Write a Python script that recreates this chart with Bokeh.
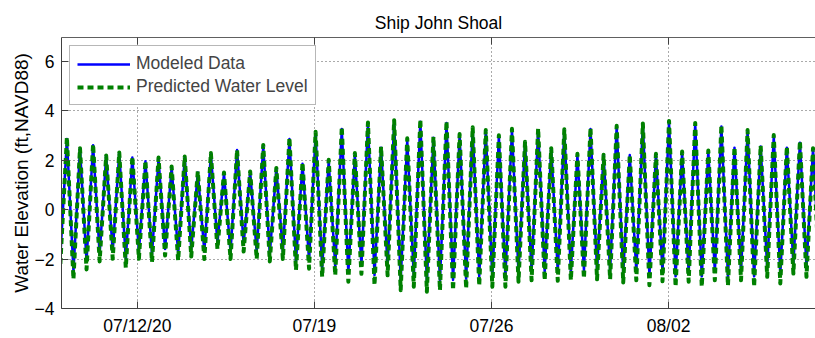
import pandas as pd
from bokeh.plotting import figure
from bokeh.models import FixedTicker, DatetimeAxis, Range1d
from bokeh.embed import file_html
from bokeh.resources import INLINE

title_text = "Ship John Shoal"
y_label = "Water Elevation (ft,NAVD88)"
series_names = ["Modeled Data", "Predicted Water Level"]
tick_dates = ["2020-07-12", "2020-07-19", "2020-07-26", "2020-08-02"]
tick_labels = ["07/12/20", "07/19", "07/26", "08/02"]
y_ticks = [-4, -2, 0, 2, 4, 6]
x_start = "2020-07-09 00:00"
x_end = "2020-08-07 19:25"

# times of the alternating low / high waters
first_time = "2020-07-08 22:55"
half_period_s = 22356  # ~6 h 12.6 min between a low and the next high

# Predicted Water Level: high waters and low waters (ft)
pred_high = [2.92, 2.48, 2.64, 2.18, 2.30, 2.14, 1.97, 2.10, 1.74, 2.14,
             1.54, 2.28, 1.50, 2.41, 1.54, 2.61, 1.68, 2.90, 1.90, 3.14,
             2.01, 3.34, 2.28, 3.52, 2.54, 3.61, 2.88, 3.64, 2.94, 3.57,
             3.05, 3.32, 3.21, 3.00, 3.26, 2.74, 3.28, 2.48, 3.24, 2.25,
             3.30, 2.21, 3.38, 2.21, 3.48, 2.25, 3.58, 2.34, 3.50, 2.38,
             3.41, 2.52, 3.21, 2.58, 3.01, 2.54, 2.77, 2.48]
pred_low = [-2.20, -2.82, -2.42, -2.10, -1.99, -2.36, -1.99, -2.12, -1.86, -2.06,
            -1.90, -2.00, -1.60, -2.00, -1.70, -2.00, -2.10, -2.00, -2.45, -2.39,
            -2.72, -2.66, -2.92, -2.60, -3.06, -2.66, -3.26, -3.12, -3.32, -3.26,
            -3.26, -3.19, -3.08, -3.12, -3.12, -2.92, -2.86, -2.86, -2.88, -2.86,
            -2.79, -2.82, -2.82, -2.95, -2.86, -3.06, -2.90, -3.12, -2.92, -3.12,
            -2.86, -3.08, -2.86, -3.12, -2.72, -2.99, -2.59, -2.72, -2.90]

# Modeled Data: high waters and low waters (ft)
model_high = [2.85, 2.45, 2.60, 2.15, 2.30, 2.10, 1.95, 2.05, 1.70, 2.10,
              1.50, 2.25, 1.45, 2.40, 1.50, 2.55, 1.65, 2.85, 1.85, 3.05,
              1.95, 3.25, 2.20, 3.45, 2.50, 3.50, 2.80, 3.55, 2.90, 3.50,
              3.00, 3.25, 3.15, 2.95, 3.20, 2.70, 3.20, 2.45, 3.20, 2.20,
              3.25, 2.20, 3.35, 2.20, 3.45, 2.20, 3.50, 2.30, 3.45, 2.35,
              3.35, 2.50, 3.15, 2.55, 2.95, 2.50, 2.70, 2.45]
model_low = [-1.90, -2.50, -2.10, -1.80, -1.70, -2.00, -1.70, -1.80, -1.60, -1.75,
             -1.60, -1.70, -1.35, -1.70, -1.40, -1.70, -1.80, -1.70, -2.10, -2.05,
             -2.35, -2.30, -2.55, -2.25, -2.65, -2.30, -2.85, -2.70, -2.90, -2.85,
             -2.85, -2.80, -2.70, -2.75, -2.70, -2.55, -2.50, -2.50, -2.50, -2.50,
             -2.45, -2.45, -2.45, -2.55, -2.50, -2.65, -2.50, -2.70, -2.55, -2.70,
             -2.50, -2.70, -2.50, -2.70, -2.35, -2.60, -2.20, -2.30, -2.50]


def interleave(lows, highs):
    out = []
    for lo, hi in zip(lows, highs):
        out += [lo, hi]
    out.append(lows[-1])
    return out


pred_vals = interleave(pred_low, pred_high)
model_vals = interleave(model_low, model_high)
times = pd.date_range(first_time, periods=len(pred_vals), freq=f"{half_period_s}s")

FONT = "Liberation Sans"
tick_ms = [pd.Timestamp(d).value / 1e6 for d in tick_dates]

p = figure(width=815, height=338, x_axis_type="datetime",
           x_range=Range1d(pd.Timestamp(x_start), pd.Timestamp(x_end)),
           y_range=Range1d(-4, 6.95),
           output_backend="svg", toolbar_location=None, title=title_text,
           min_border_left=61, min_border_right=0, min_border_top=37,
           min_border_bottom=28)
p.outline_line_color = None
p.background_fill_color = "white"
p.border_fill_color = "white"

p.title.text_font = FONT
p.title.text_font_size = "17.5px"
p.title.text_font_style = "normal"
p.title.align = "center"
p.title.text_color = "black"
p.title.offset = 3

# x axis
xa = p.xaxis[0]
xa.ticker = FixedTicker(ticks=tick_ms)
xa.major_label_overrides = {t: lab for t, lab in zip(tick_ms, tick_labels)}
# y axis
ya = p.yaxis[0]
ya.ticker = FixedTicker(ticks=y_ticks)
ya.axis_label = y_label

for ax in (xa, ya):
    ax.major_tick_in = 7
    ax.major_tick_out = 0
    ax.minor_tick_line_color = None
    ax.axis_line_color = "#404040"
    ax.major_tick_line_color = "#404040"
    ax.major_label_text_font = FONT
    ax.major_label_text_font_size = "17.5px"
    ax.major_label_text_color = "black"
    ax.axis_label_text_font = FONT
    ax.axis_label_text_font_size = "19px"
    ax.axis_label_text_font_style = "normal"
    ax.axis_label_text_color = "black"
xa.major_label_standoff = 7
ya.major_label_standoff = 7
ya.axis_label_standoff = 0

top = DatetimeAxis(ticker=FixedTicker(ticks=tick_ms), major_tick_in=7,
                   major_tick_out=0, minor_tick_line_color=None,
                   axis_line_color="#606060", major_tick_line_color="#404040",
                   major_label_text_font_size="2px", major_label_text_color=None,
                   major_label_standoff=4)
p.add_layout(top, "above")

for g in (p.xgrid[0], p.ygrid[0]):
    g.grid_line_color = "#555555"
    g.grid_line_dash = "1 3"
    g.grid_line_width = 1

p.line(times, model_vals, color="#0000ff", line_width=2.5, line_join="round",
       legend_label=series_names[0])
p.line(times, pred_vals, color="#008000", line_width=4, line_dash="6 4",
       line_join="round", legend_label=series_names[1])

lg = p.legend[0]
lg.location = "top_left"
lg.margin = 8
lg.padding = 7
lg.spacing = 2
lg.glyph_width = 53
lg.label_standoff = 6
lg.label_text_font = FONT
lg.label_text_font_size = "17.5px"
lg.border_line_color = "#707070"
lg.border_line_width = 1.5
lg.background_fill_color = "white"
lg.background_fill_alpha = 1.0

open("out.html", "w").write(file_html(p, INLINE))
